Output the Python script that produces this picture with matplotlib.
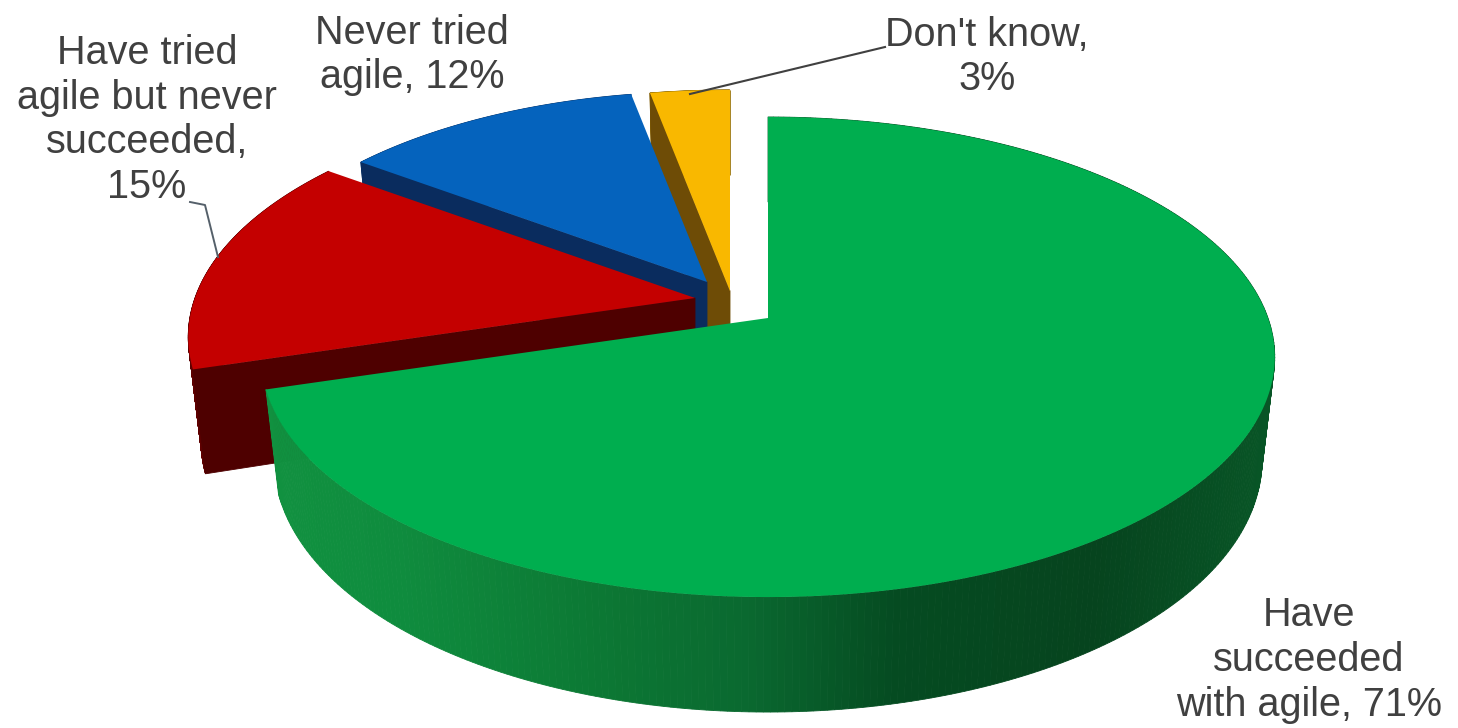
#!/usr/bin/env python3
"""Exploded 3D-style pie: success with agile survey."""

import numpy as np
import matplotlib
matplotlib.use("Agg")
import matplotlib.pyplot as plt
from matplotlib.patches import Polygon

plt.rcParams["font.family"] = ["Liberation Sans", "DejaVu Sans"]

# Data (drawn clockwise from 12 o'clock)
categories = ["Have succeeded\nwith agile", "Have tried agile\nbut never succeeded", "Never tried\nagile", "Don't know"]
shares = [71, 15, 12, 3]

COLOR_TOP = ["#00AE4F", "#C40000", "#0563BD", "#F9B800"]
COLOR_CUT = ["#0A6B30", "#4E0000", "#0A2C5E", "#6E4C06"]
COLOR_RIM = ["#0A6B30", "#5E0000", "#0B3F7A", "#9A7408"]
COLOR_TEXT = "#404040"

# Pixel position of each slice's point (explosion offsets) and its radius scale
APEX = [(768, 318), (695, 298), (707, 282), (730, 291)]
SCALE = [1.0, 1.0, 0.94, 1.0]

# Projection of the tilted disc
RX, RY, PERSP = 500, 233.7, 0.1625
DEPTH_MID, DEPTH_FRONT = 100, 15
SHRINK = 0.975

# Side shading of the big slice, left to right
SHADE_X = [270, 400, 600, 750, 900, 1100, 1270]
SHADE_R = [17, 15, 12, 10, 5, 6, 8]
SHADE_G = [145, 140, 120, 105, 75, 68, 85]
SHADE_B = [64, 62, 52, 48, 33, 30, 38]


def project(apex, deg, scale):
    t = np.radians(deg)
    u, v = np.sin(t) * scale, np.cos(t) * scale
    w = 1 + PERSP * v
    return apex[0] + RX * u / w, apex[1] - RY * v / w, v


def lower(apex, x, y, v):
    return apex[0] + SHRINK * (x - apex[0]), y + DEPTH_MID - DEPTH_FRONT * v


def draw_slice(ax, idx, start, end):
    apex = APEX[idx]
    degs = np.linspace(start, end, 360)
    x, y, v = project(apex, degs, SCALE[idx])
    xb, yb = lower(apex, x, y, v)

    # rim facets
    for i in range(len(degs) - 1):
        quad = [(x[i], y[i]), (x[i + 1], y[i + 1]), (xb[i + 1], yb[i + 1]), (xb[i], yb[i])]
        if idx == 0:
            c = (np.interp(x[i], SHADE_X, SHADE_R) / 255,
                 np.interp(x[i], SHADE_X, SHADE_G) / 255,
                 np.interp(x[i], SHADE_X, SHADE_B) / 255)
        else:
            c = COLOR_RIM[idx]
        ax.add_patch(Polygon(quad, closed=True, facecolor=c, edgecolor=c, linewidth=0.6))

    # cut face on the leading edge
    if idx > 0:
        bx, by = lower(apex, apex[0], apex[1], 0)
        cut = [(x[0], y[0]), apex, (bx, by), (xb[0], yb[0])]
        ax.add_patch(Polygon(cut, closed=True, facecolor=COLOR_CUT[idx], edgecolor=COLOR_CUT[idx], linewidth=0.6))

    # top face
    top = [apex] + list(zip(x, y))
    ax.add_patch(Polygon(top, closed=True, facecolor=COLOR_TOP[idx], edgecolor="none"))


fig = plt.figure(figsize=(14.58, 7.28), dpi=100, facecolor="white")
ax = fig.add_axes([0, 0, 1, 1])
ax.set_xlim(0, 1458)
ax.set_ylim(728, 0)
ax.axis("off")

fractions = np.array(shares) / sum(shares)
edges = np.concatenate([[0], np.cumsum(fractions)]) * 360

# back to front
for idx in [3, 2, 1, 0]:
    draw_slice(ax, idx, edges[idx], edges[idx + 1])

# leader lines
ax.plot([885, 690], [47, 94], color="#404040", lw=1.5)
ax.plot([190, 205, 218], [202, 205, 257], color="#55606A", lw=1.4)

# labels
LABELS = [
    (1309, 660, f"Have\nsucceeded\nwith agile, {shares[0]}%"),
    (147, 120, f"Have tried\nagile but never\nsucceeded,\n{shares[1]}%"),
    (412, 55, f"Never tried\nagile, {shares[2]}%"),
    (987, 57, f"Don't know,\n{shares[3]}%"),
]
for lx, ly, s in LABELS:
    ax.text(lx, ly, s, ha="center", va="center", fontsize=28.5, color=COLOR_TEXT, linespacing=1.23)

fig.savefig("out.png", dpi=100, facecolor="white")
